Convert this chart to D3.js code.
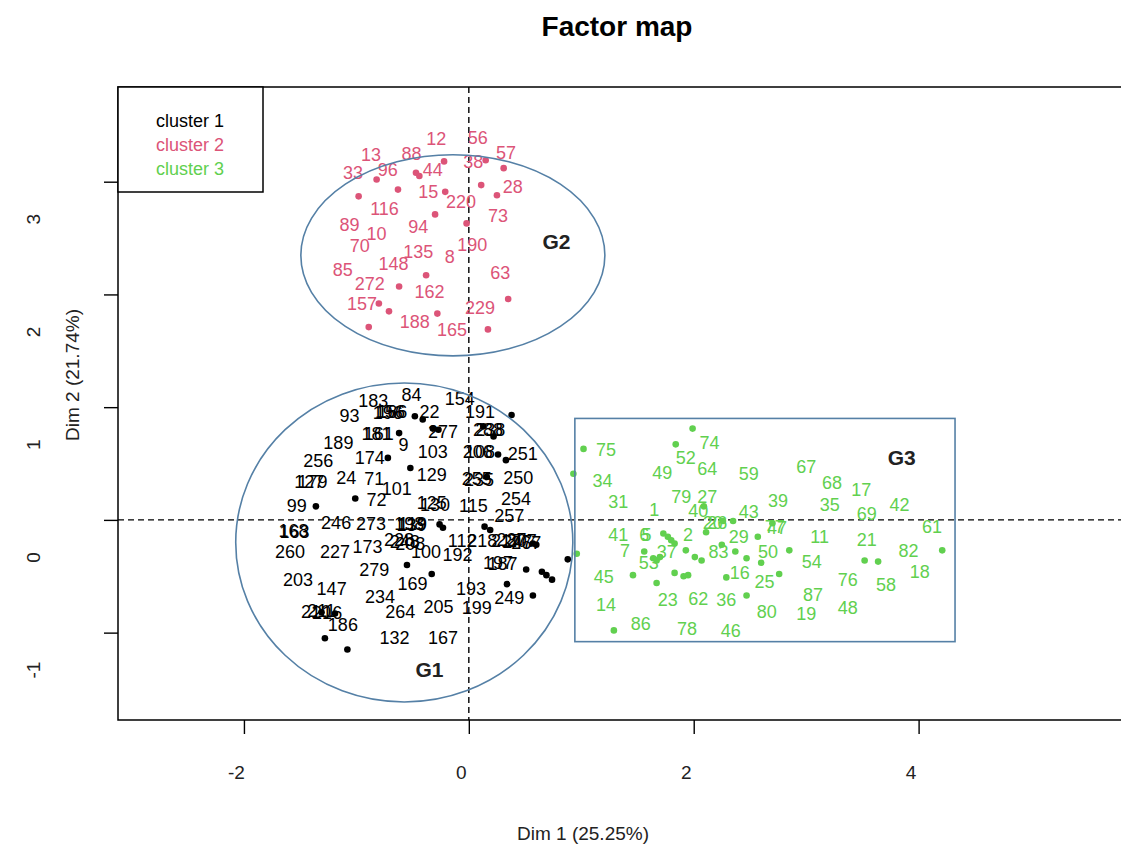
<!DOCTYPE html>
<html>
<head>
<meta charset="utf-8">
<script src="https://cdn.jsdelivr.net/npm/d3@7"></script>
<style>
  body { margin: 0; background: #fff; }
  text { font-family: "Liberation Sans", Arial, sans-serif; }
</style>
</head>
<body>
<svg id="chart" width="1121" height="852"></svg>
<script>
// axis ranges and ticks (Dim 1 / Dim 2 coordinates)
var xLim = [-3.12, 5.80];
var yLim = [-1.775, 3.84];
var xTicks = [-2, 0, 2, 4];
var yTicks = [-1, 0, 1, 2, 3];

var clusterNames = ['cluster 1', 'cluster 2', 'cluster 3'];
var clusterColors = ['#000000', '#DC5478', '#61D04F'];

// cluster 1 : individuals (black)
var c1Points = [
  [-0.48, 0.92], [-0.41, 0.89], [-0.62, 0.77], [-0.72, 0.55], [-0.52, 0.46], [-1.36, 0.12],
  [-1.01, 0.19], [-0.32, 0.81], [-0.27, 0.80], [0.38, 0.93], [0.13, 0.83], [0.22, 0.74],
  [0.26, 0.58], [0.33, 0.53], [0.16, 0.38], [-0.26, -0.04], [-0.23, -0.07], [0.14, -0.06],
  [0.19, -0.09], [-0.55, -0.40], [-0.33, -0.48], [0.51, -0.44], [0.65, -0.46], [0.69, -0.49],
  [0.74, -0.53], [0.34, -0.57], [0.57, -0.67], [0.88, -0.35], [0.57, -0.21], [0.60, -0.22],
  [-1.28, -1.05], [-1.08, -1.15], [-1.19, -0.83], [-1.31, -0.82]
];
var c1Labels = [
  ['183', -0.85, 1.06], ['84', -0.51, 1.11], ['154', -0.08, 1.08], ['93', -1.06, 0.93],
  ['156', -0.70, 0.96], ['166', -0.68, 0.96], ['196', -0.72, 0.95], ['22', -0.35, 0.96],
  ['191', 0.10, 0.96], ['189', -1.16, 0.69], ['181', -0.82, 0.77], ['161', -0.80, 0.77],
  ['9', -0.58, 0.67], ['277', -0.23, 0.78], ['288', 0.17, 0.80], ['238', 0.19, 0.80],
  ['256', -1.34, 0.53], ['174', -0.88, 0.55], ['103', -0.32, 0.61], ['206', 0.08, 0.61],
  ['108', 0.10, 0.61], ['251', 0.48, 0.59], ['127', -1.42, 0.34], ['179', -1.39, 0.34],
  ['24', -1.09, 0.38], ['71', -0.84, 0.37], ['129', -0.33, 0.40], ['255', 0.07, 0.37],
  ['235', 0.09, 0.36], ['250', 0.44, 0.38], ['101', -0.64, 0.28], ['125', -0.33, 0.15],
  ['130', -0.30, 0.14], ['115', 0.04, 0.13], ['254', 0.42, 0.19], ['99', -1.53, 0.13],
  ['72', -0.82, 0.18], ['257', 0.36, 0.04], ['168', -1.56, -0.09], ['163', -1.55, -0.10],
  ['246', -1.18, -0.02], ['273', -0.87, -0.03], ['198', -0.53, -0.03], ['119', -0.50, -0.03],
  ['139', -0.51, -0.04], ['112', -0.06, -0.18], ['218', 0.12, -0.18], ['217', 0.33, -0.18],
  ['237', 0.38, -0.17], ['247', 0.43, -0.19], ['207', 0.47, -0.18], ['267', 0.51, -0.20],
  ['100', -0.38, -0.28], ['192', -0.10, -0.31], ['228', -0.62, -0.17], ['248', -0.57, -0.19],
  ['208', -0.52, -0.21], ['197', 0.26, -0.38], ['187', 0.30, -0.39], ['260', -1.59, -0.28],
  ['227', -1.19, -0.28], ['173', -0.90, -0.24], ['279', -0.84, -0.44], ['203', -1.52, -0.53],
  ['147', -1.22, -0.61], ['234', -0.79, -0.68], ['169', -0.50, -0.56], ['193', 0.02, -0.61],
  ['264', -0.61, -0.81], ['205', -0.27, -0.77], ['199', 0.07, -0.78], ['249', 0.36, -0.69],
  ['186', -1.12, -0.93], ['132', -0.66, -1.04], ['167', -0.23, -1.04], ['210', -1.36, -0.81],
  ['211', -1.31, -0.80], ['216', -1.26, -0.82]
];

// cluster 2 : individuals (red)
var c2Points = [
  [-0.22, 3.18], [0.15, 3.19], [0.31, 3.12], [-0.82, 3.02], [-0.47, 3.08], [-0.44, 3.05],
  [0.11, 2.97], [-0.63, 2.93], [-0.98, 2.87], [-0.21, 2.91], [0.25, 2.88], [-0.30, 2.71],
  [-0.02, 2.63], [-0.38, 2.17], [-0.62, 2.07], [0.35, 1.96], [-0.80, 1.92], [-0.71, 1.85],
  [-0.28, 1.83], [-0.89, 1.71], [0.17, 1.69]
];
var c2Labels = [
  ['12', -0.29, 3.38], ['56', 0.08, 3.39], ['13', -0.87, 3.24], ['88', -0.51, 3.25],
  ['57', 0.33, 3.26], ['33', -1.03, 3.08], ['96', -0.72, 3.11], ['44', -0.32, 3.11],
  ['38', 0.04, 3.18], ['28', 0.39, 2.96], ['15', -0.36, 2.91], ['220', -0.07, 2.82],
  ['116', -0.75, 2.76], ['73', 0.26, 2.70], ['89', -1.06, 2.62], ['94', -0.45, 2.60],
  ['10', -0.82, 2.54], ['190', 0.03, 2.44], ['70', -0.97, 2.43], ['135', -0.45, 2.38],
  ['8', -0.17, 2.34], ['85', -1.12, 2.22], ['148', -0.67, 2.27], ['63', 0.28, 2.19],
  ['272', -0.88, 2.10], ['162', -0.35, 2.03], ['157', -0.95, 1.92], ['229', 0.10, 1.88],
  ['188', -0.48, 1.76], ['165', -0.15, 1.69]
];

// cluster 3 : individuals (green)
var c3Points = [
  [1.02, 0.63], [0.93, 0.41], [0.96, -0.30], [1.99, 0.81], [1.84, 0.67], [1.73, -0.12],
  [1.77, -0.15], [1.80, -0.18], [1.83, -0.21], [1.56, -0.28], [1.64, -0.34], [1.67, -0.36],
  [1.70, -0.33], [1.46, -0.49], [1.67, -0.56], [1.93, -0.27], [2.01, -0.33], [2.07, -0.36],
  [1.83, -0.47], [1.91, -0.50], [1.95, -0.49], [2.11, -0.11], [2.09, 0.12], [2.26, -0.01],
  [2.35, -0.01], [2.25, -0.22], [2.37, -0.28], [2.47, -0.34], [2.29, -0.51], [2.47, -0.67],
  [2.57, -0.15], [2.60, -0.38], [1.29, -0.98], [2.70, -0.03], [2.85, -0.27], [2.76, -0.48],
  [3.52, -0.36], [3.64, -0.37], [4.21, -0.27]
];
var c3Labels = [
  ['75', 1.22, 0.62], ['74', 2.14, 0.69], ['52', 1.93, 0.55], ['49', 1.72, 0.42],
  ['64', 2.12, 0.46], ['59', 2.49, 0.41], ['34', 1.19, 0.35], ['79', 1.89, 0.21],
  ['27', 2.12, 0.21], ['31', 1.33, 0.16], ['1', 1.65, 0.09], ['40', 2.04, 0.08],
  ['43', 2.49, 0.07], ['20', 2.17, -0.02], ['26', 2.21, -0.02], ['41', 1.33, -0.13],
  ['6', 1.56, -0.13], ['5', 1.58, -0.13], ['2', 1.95, -0.13], ['29', 2.40, -0.15],
  ['7', 1.39, -0.27], ['37', 1.76, -0.28], ['83', 2.22, -0.28], ['53', 1.60, -0.38],
  ['45', 1.20, -0.50], ['16', 2.41, -0.47], ['23', 1.77, -0.71], ['62', 2.04, -0.70],
  ['36', 2.29, -0.71], ['14', 1.22, -0.75], ['86', 1.53, -0.92], ['78', 1.94, -0.96],
  ['46', 2.33, -0.98], ['67', 3.00, 0.47], ['68', 3.23, 0.33], ['17', 3.49, 0.27],
  ['39', 2.75, 0.17], ['35', 3.21, 0.14], ['42', 3.83, 0.14], ['69', 3.54, 0.06],
  ['47', 2.74, -0.07], ['77', 2.72, -0.06], ['61', 4.12, -0.06], ['11', 3.12, -0.15],
  ['21', 3.54, -0.17], ['50', 2.66, -0.28], ['82', 3.91, -0.27], ['54', 3.05, -0.37],
  ['18', 4.01, -0.46], ['25', 2.63, -0.55], ['76', 3.37, -0.53], ['58', 3.71, -0.57],
  ['87', 3.06, -0.66], ['80', 2.65, -0.81], ['19', 3.00, -0.83], ['48', 3.37, -0.78]
];

// hand-drawn group outlines, in Dim 1 / Dim 2 units
var groupEllipses = [
  { name: 'G1', cx: -0.574, cy: -0.20, rx: 1.499, ry: 1.415, lx: -0.35, ly: -1.33 },
  { name: 'G2', cx: -0.142, cy: 2.347, rx: 1.352, ry: 0.892, lx: 0.78, ly: 2.47 }
];
var groupRects = [
  { name: 'G3', x0: 0.943, x1: 4.324, y0: -1.08, y1: 0.90, lx: 3.85, ly: 0.55 }
];

var width = 1121;
var height = 852;
var margin = { top: 87, left: 118, bottom: 132, right: 0 };

var svg = d3.select('#chart');

var x = d3.scaleLinear().domain(xLim).range([margin.left, width - margin.right]);
var y = d3.scaleLinear().domain(yLim).range([height - margin.bottom, margin.top]);

var outline = '#5580a6';

// dashed reference lines
svg.append('line')
  .attr('x1', x(0)).attr('x2', x(0))
  .attr('y1', y.range()[1]).attr('y2', y.range()[0])
  .attr('stroke', '#000').attr('stroke-width', 1.4).attr('stroke-dasharray', '6,4');
svg.append('line')
  .attr('x1', x.range()[0]).attr('x2', width)
  .attr('y1', y(0)).attr('y2', y(0))
  .attr('stroke', '#000').attr('stroke-width', 1.4).attr('stroke-dasharray', '6,4');

// individuals
var clusters = [
  { pts: c1Points, labs: c1Labels },
  { pts: c2Points, labs: c2Labels },
  { pts: c3Points, labs: c3Labels }
];

clusters.forEach(function (c, i) {
  var g = svg.append('g').attr('class', 'cluster' + (i + 1));

  g.selectAll('circle')
    .data(c.pts)
    .enter()
    .append('circle')
    .attr('cx', (d) => x(d[0]))
    .attr('cy', (d) => y(d[1]))
    .attr('r', 3.3)
    .attr('fill', clusterColors[i]);

  g.selectAll('text')
    .data(c.labs)
    .enter()
    .append('text')
    .attr('x', (d) => x(d[1]))
    .attr('y', (d) => y(d[2]))
    .attr('dy', '0.36em')
    .attr('text-anchor', 'middle')
    .attr('font-size', 18)
    .attr('fill', clusterColors[i])
    .text((d) => d[0]);
});

// group annotations
svg.selectAll('.grp-ellipse')
  .data(groupEllipses)
  .enter()
  .append('ellipse')
  .attr('class', 'grp-ellipse')
  .attr('cx', (d) => x(d.cx))
  .attr('cy', (d) => y(d.cy))
  .attr('rx', (d) => x(d.rx) - x(0))
  .attr('ry', (d) => y(0) - y(d.ry))
  .attr('fill', 'none')
  .attr('stroke', outline)
  .attr('stroke-width', 1.6);

svg.selectAll('.grp-rect')
  .data(groupRects)
  .enter()
  .append('rect')
  .attr('class', 'grp-rect')
  .attr('x', (d) => x(d.x0))
  .attr('y', (d) => y(d.y1))
  .attr('width', (d) => x(d.x1) - x(d.x0))
  .attr('height', (d) => y(d.y0) - y(d.y1))
  .attr('fill', 'none')
  .attr('stroke', outline)
  .attr('stroke-width', 1.6);

svg.selectAll('.grp-label')
  .data(groupEllipses.concat(groupRects))
  .enter()
  .append('text')
  .attr('class', 'grp-label')
  .attr('x', (d) => x(d.lx))
  .attr('y', (d) => y(d.ly))
  .attr('dy', '0.36em')
  .attr('text-anchor', 'middle')
  .attr('font-size', 21)
  .attr('font-weight', 'bold')
  .attr('fill', '#222')
  .text((d) => d.name);

// plot frame (right side runs off the picture)
svg.append('path')
  .attr('d', 'M' + (width + 5) + ',' + y.range()[1] + 'H' + x.range()[0] + 'V' + y.range()[0] + 'H' + (width + 5))
  .attr('fill', 'none')
  .attr('stroke', '#000')
  .attr('stroke-width', 1.5);

// axes
var xAxis = svg.append('g')
  .attr('transform', 'translate(0,' + y.range()[0] + ')')
  .call(d3.axisBottom(x).tickValues(xTicks).tickSize(14).tickFormat((d) => String(d)));
xAxis.select('.domain').remove();
xAxis.selectAll('line').attr('stroke', '#000').attr('stroke-width', 1.4);
xAxis.selectAll('text')
  .attr('font-size', 19)
  .attr('font-family', '"Liberation Sans", Arial, sans-serif')
  .attr('fill', '#222')
  .attr('y', 46)
  .attr('dx', -8);

var yAxis = svg.append('g')
  .attr('transform', 'translate(' + x.range()[0] + ',0)')
  .call(d3.axisLeft(y).tickValues(yTicks).tickSize(14).tickFormat((d) => String(d)));
yAxis.select('.domain').remove();
yAxis.selectAll('line').attr('stroke', '#000').attr('stroke-width', 1.4);
yAxis.selectAll('text')
  .attr('font-size', 19)
  .attr('font-family', '"Liberation Sans", Arial, sans-serif')
  .attr('fill', '#222')
  .attr('x', 0)
  .attr('dy', 0)
  .attr('text-anchor', 'middle')
  .attr('transform', 'translate(-78,37) rotate(-90)');

// titles
svg.append('text')
  .attr('x', 617)
  .attr('y', 36)
  .attr('text-anchor', 'middle')
  .attr('font-size', 28)
  .attr('font-weight', 'bold')
  .text('Factor map');

svg.append('text')
  .attr('x', 583)
  .attr('y', 840)
  .attr('text-anchor', 'middle')
  .attr('font-size', 19)
  .attr('fill', '#222')
  .text('Dim 1 (25.25%)');

svg.append('text')
  .attr('transform', 'translate(79,375) rotate(-90)')
  .attr('text-anchor', 'middle')
  .attr('font-size', 19)
  .attr('fill', '#222')
  .text('Dim 2 (21.74%)');

// legend
var legend = svg.append('g').attr('transform', 'translate(' + x.range()[0] + ',' + y.range()[1] + ')');
legend.append('rect')
  .attr('width', 145)
  .attr('height', 105)
  .attr('fill', '#fff')
  .attr('stroke', '#000')
  .attr('stroke-width', 1.5);
legend.selectAll('text')
  .data(clusterNames)
  .enter()
  .append('text')
  .attr('x', 38)
  .attr('y', (d, i) => 34 + i * 24)
  .attr('dy', '0.36em')
  .attr('font-size', 18)
  .attr('fill', (d, i) => clusterColors[i])
  .text((d) => d);
</script>
</body>
</html>
